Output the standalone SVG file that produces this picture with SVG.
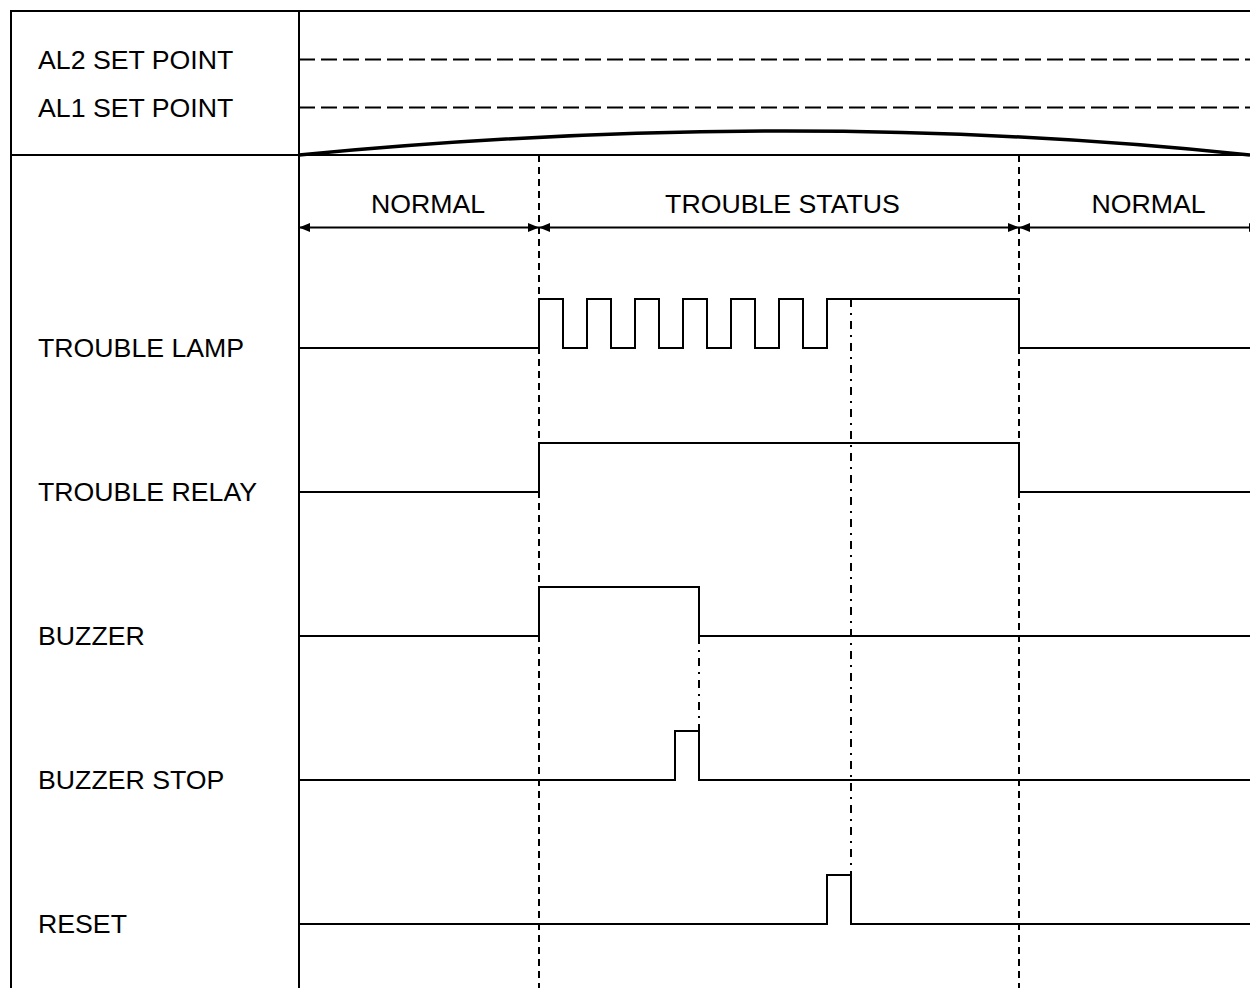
<svg xmlns="http://www.w3.org/2000/svg" width="1250" height="988" viewBox="0 0 1250 988">
  <defs>
    <style>
      .frame { fill: none; stroke: #000; stroke-width: 2; }
      .sig { fill: none; stroke: #000; stroke-width: 2; stroke-linejoin: miter; }
      .dash { fill: none; stroke: #000; stroke-width: 2; stroke-dasharray: 16 6; }
      .vdash { fill: none; stroke: #000; stroke-width: 2; stroke-dasharray: 7 5; }
      .dashdot { fill: none; stroke: #000; stroke-width: 2; stroke-dasharray: 8 6 2 6; }
      .curve { fill: none; stroke: #000; stroke-width: 3.5; }
      .arrow { fill: none; stroke: #000; stroke-width: 2; marker-start: url(#ah); marker-end: url(#ah); }
      text { font-family: "Liberation Sans", Arial, sans-serif; font-size: 26.7px; fill: #000; }
      .mid { text-anchor: middle; }
    </style>
    <marker id="ah" viewBox="0 0 11 9" refX="11" refY="4.5" markerWidth="11" markerHeight="9" markerUnits="userSpaceOnUse" orient="auto-start-reverse">
      <path d="M0,0 L11,4.5 L0,9 Z" fill="#000"/>
    </marker>
  </defs>

  <rect x="0" y="0" width="1250" height="988" fill="#fff"/>

  <g id="frame">
    <path class="frame" d="M1250,11 H11 V988"/>
    <path class="frame" d="M299,11 V988"/>
    <path class="frame" d="M11,155 H1250"/>
  </g>

  <g id="setpoints">
    <text x="38" y="69">AL2 SET POINT</text>
    <text x="38" y="117">AL1 SET POINT</text>
    <path class="dash" d="M299,59.5 H1250"/>
    <path class="dash" d="M299,107.5 H1250"/>
    <path class="curve" d="M299,155 Q795,107 1250,155"/>
  </g>

  <g id="guides">
    <path class="vdash" d="M539,155 V988"/>
    <path class="vdash" d="M1019,155 V988"/>
    <path class="dashdot" d="M851,299 V875"/>
    <path class="dashdot" d="M699,636 V731"/>
  </g>

  <g id="connectors">
    <path class="arrow" d="M299,227.5 H539"/>
    <path class="arrow" d="M539,227.5 H1019"/>
    <path class="arrow" d="M1019,227.5 H1260"/>
  </g>

  <g id="status-labels">
    <text class="mid" x="428" y="213">NORMAL</text>
    <text class="mid" x="782.5" y="213">TROUBLE STATUS</text>
    <text class="mid" x="1148.5" y="213">NORMAL</text>
  </g>

  <g id="trouble-lamp">
    <text x="38" y="357">TROUBLE LAMP</text>
    <path class="sig" d="M299,348 H539 V299 H563 V348 H587 V299 H611 V348 H635 V299 H659 V348 H683 V299 H707 V348 H731 V299 H755 V348 H779 V299 H803 V348 H827 V299 H1019 V348 H1250"/>
  </g>

  <g id="trouble-relay">
    <text x="38" y="501">TROUBLE RELAY</text>
    <path class="sig" d="M299,492 H539 V443 H1019 V492 H1250"/>
  </g>

  <g id="buzzer">
    <text x="38" y="645">BUZZER</text>
    <path class="sig" d="M299,636 H539 V587 H699 V636 H1250"/>
  </g>

  <g id="buzzer-stop">
    <text x="38" y="789">BUZZER STOP</text>
    <path class="sig" d="M299,780 H675 V731 H699 V780 H1250"/>
  </g>

  <g id="reset">
    <text x="38" y="933">RESET</text>
    <path class="sig" d="M299,924 H827 V875 H851 V924 H1250"/>
  </g>
</svg>
